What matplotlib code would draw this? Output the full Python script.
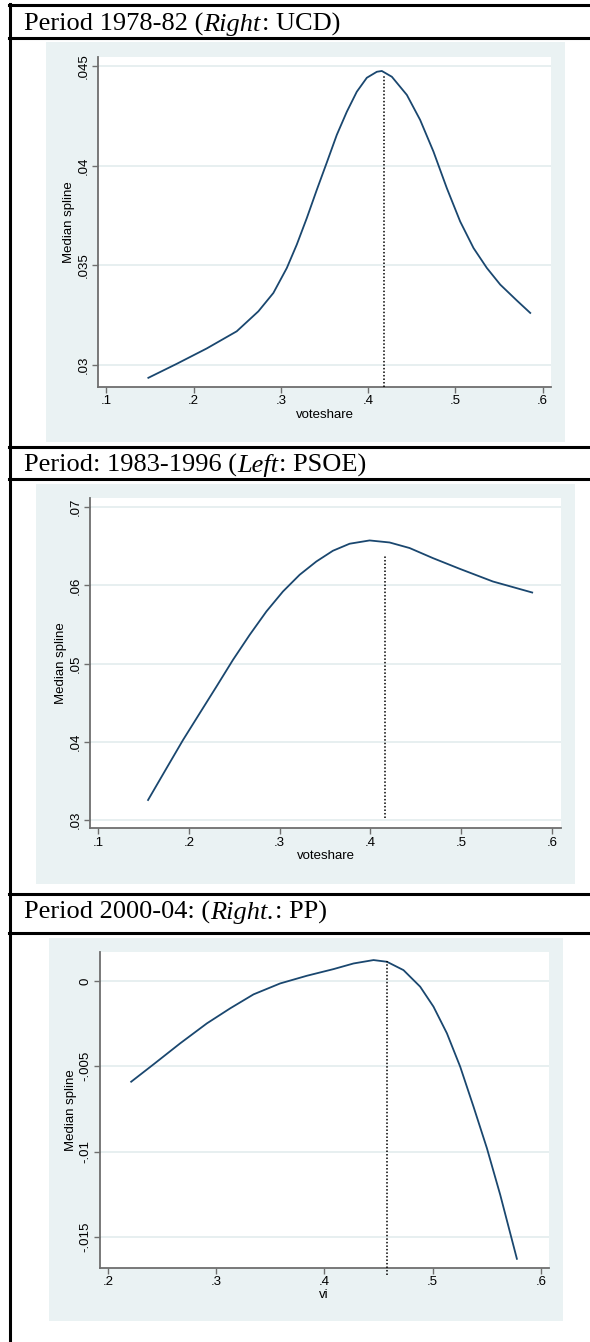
import matplotlib
matplotlib.use("Agg")
import matplotlib.pyplot as plt
from matplotlib.lines import Line2D
from matplotlib.patches import Rectangle

# --- data ---
# title pieces: (text, italic?)
titles = [[("Period 1978-82 (", False), ("Right", True), (": UCD)", False)],
          [("Period: 1983-1996 (", False), ("Left", True), (": PSOE)", False)],
          [("Period 2000-04: (", False), ("Right.", True), (": PP)", False)]]
xlabels = ["voteshare", "voteshare", "vi"]
ylabel = "Median spline"

x1 = [0.148, 0.1805, 0.2149, 0.2493, 0.2741, 0.2913, 0.3067, 0.3181, 0.3296, 0.3411, 0.3525,
      0.364, 0.3755, 0.3869, 0.3984, 0.4099, 0.4156, 0.4271, 0.4443, 0.4595, 0.4748, 0.4901,
      0.5054, 0.5207, 0.536, 0.5513, 0.5704, 0.5857]
y1 = [0.02937, 0.03007, 0.03084, 0.0317, 0.0327, 0.03362, 0.03487, 0.03604, 0.03737, 0.03879,
      0.04015, 0.04154, 0.0427, 0.0437, 0.0444, 0.0447, 0.04474, 0.04445, 0.04354, 0.04229,
      0.0407, 0.03887, 0.0372, 0.03587, 0.03487, 0.03404, 0.03324, 0.03262]

x2 = [0.1552, 0.1755, 0.1937, 0.2121, 0.2305, 0.2487, 0.2671, 0.2855, 0.3037, 0.3221, 0.3405,
      0.3587, 0.3771, 0.3991, 0.4211, 0.4431, 0.4688, 0.4981, 0.5348, 0.5781]
y2 = [0.03256, 0.03662, 0.04024, 0.04366, 0.04707, 0.05049, 0.05369, 0.05668, 0.05923, 0.06137,
      0.06307, 0.06444, 0.06534, 0.06576, 0.0655, 0.06479, 0.0635, 0.06214, 0.06051, 0.0591]

x3 = [0.2214, 0.2421, 0.2667, 0.2914, 0.3129, 0.3345, 0.3591, 0.3838, 0.4084, 0.4269, 0.4454,
      0.4578, 0.4731, 0.4885, 0.5008, 0.5132, 0.5255, 0.5378, 0.5502, 0.5625, 0.5779]
y3 = [-0.0059, -0.00488, -0.00365, -0.00248, -0.0016, -0.00078, -0.00014, 0.00031, 0.0007,
      0.00103, 0.00123, 0.00113, 0.00064, -0.00033, -0.0015, -0.00306, -0.00502, -0.00736,
      -0.0098, -0.01253, -0.01628]

# dotted marker line: x, y from, y to
vline_x = [0.4186, 0.4156, 0.4578]
vline_lo = [0.0289, 0.0303, -0.0172]
vline_hi = [0.04453, 0.0638, 0.00117]

xticks = [[0.1, 0.2, 0.3, 0.4, 0.5, 0.6], [0.1, 0.2, 0.3, 0.4, 0.5, 0.6], [0.2, 0.3, 0.4, 0.5, 0.6]]
xticklabels = [[".1", ".2", ".3", ".4", ".5", ".6"], [".1", ".2", ".3", ".4", ".5", ".6"],
               [".2", ".3", ".4", ".5", ".6"]]
yticks = [[0.03, 0.035, 0.04, 0.045], [0.03, 0.04, 0.05, 0.06, 0.07], [-0.015, -0.01, -0.005, 0.0]]
yticklabels = [[".03", ".035", ".04", ".045"], [".03", ".04", ".05", ".06", ".07"],
               ["-.015", "-.01", "-.005", "0"]]
xlims = [(0.0903, 0.6095), (0.0916, 0.6096), (0.1923, 0.6073)]
ylims = [(0.02891, 0.04544), (0.02894, 0.07115), (-0.0168, 0.00172)]

# --- layout in pixels (left, top, right, bottom) ---
W, H = 590, 1342
plot_boxes = [(98, 57, 551, 387), (90.3, 498.3, 560.8, 828.3), (99.7, 951.7, 548.7, 1267.7)]
gray_boxes = [(46, 42, 565, 442), (36, 484, 575, 884), (49, 938, 563, 1321)]
title_base = [31, 471.5, 919]
hlines_y = [5, 38, 447, 479.5, 894, 933]

BG = "#eaf2f3"
NAVY = "#1a476f"
AXC = "#6e6e6e"


def fx(px):
    return px / W


def fy(py):
    return 1 - py / H


fig = plt.figure(figsize=(W / 100, H / 100), dpi=100)
renderer = fig.canvas.get_renderer()

# table borders
fig.add_artist(Line2D([fx(10), fx(10)], [fy(4), fy(H)], color="black", lw=2.2))
for yy in hlines_y:
    fig.add_artist(Line2D([fx(9), 1], [fy(yy), fy(yy)], color="black", lw=2.2))

for l, t, r, b in gray_boxes:
    fig.add_artist(Rectangle((fx(l), fy(b)), fx(r - l), (b - t) / H, color=BG, lw=0, zorder=0))

for i, (xs, ys) in enumerate([(x1, y1), (x2, y2), (x3, y3)]):
    # title, pieced together so the party side can be italic
    xpos = 24
    for txt, ital in titles[i]:
        tt = fig.text(fx(xpos), fy(title_base[i]), txt, fontsize=19, family="Liberation Serif",
                      style="italic" if ital else "normal", va="baseline", ha="left")
        xpos += tt.get_window_extent(renderer).width + (1 if ital else 0)

    l, t, r, b = plot_boxes[i]
    ax = fig.add_axes([fx(l), fy(b), fx(r - l), (b - t) / H])
    ax.set_facecolor("white")
    ax.plot(xs, ys, color=NAVY, lw=1.3, zorder=3, solid_joinstyle="round")
    ax.vlines(vline_x[i], vline_lo[i], vline_hi[i], colors="black", linestyles=(0, (1, 1.3)),
              lw=1.1, zorder=4, clip_on=False)

    ax.set_xlim(*xlims[i])
    ax.set_ylim(*ylims[i])
    ax.set_xticks(xticks[i])
    ax.set_xticklabels(xticklabels[i])
    ax.set_yticks(yticks[i])
    ax.set_yticklabels(yticklabels[i], rotation=90, va="center")
    ax.grid(axis="y", color="#e3ecee", lw=1.2)
    ax.set_axisbelow(True)

    for s in ["top", "right"]:
        ax.spines[s].set_visible(False)
    for s in ["left", "bottom"]:
        ax.spines[s].set_color(AXC)
        ax.spines[s].set_linewidth(1.3)
    ax.tick_params(colors=AXC, length=4, width=1, pad=2, labelsize=9.5, labelcolor="black")
    for lab in ax.get_xticklabels() + ax.get_yticklabels():
        lab.set_family("Liberation Sans")

    ax.set_xlabel(xlabels[i], fontsize=9.5, family="Liberation Sans", labelpad=1)
    ax.set_ylabel(ylabel, fontsize=9.5, family="Liberation Sans", labelpad=2)

fig.savefig("out.png", dpi=100)
